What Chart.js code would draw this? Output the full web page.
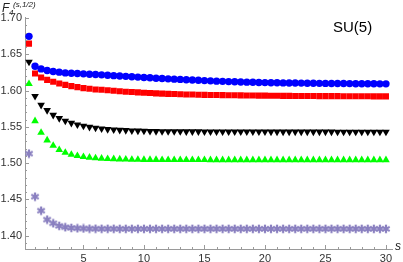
<!DOCTYPE html>
<html><head><meta charset="utf-8">
<script src="https://cdn.jsdelivr.net/npm/chart.js@4/dist/chart.umd.min.js"></script>
<style>html,body{margin:0;padding:0;background:#fff}#wrap{width:403px;height:262px;position:relative}</style>
</head><body><div id="wrap"><canvas id="c" width="403" height="262"></canvas></div>
<script>
const sValues = [0.5,1,1.5,2,2.5,3,3.5,4,4.5,5,5.5,6,6.5,7,7.5,8,8.5,9,9.5,10,10.5,11,11.5,12,12.5,13,13.5,14,14.5,15,15.5,16,16.5,17,17.5,18,18.5,19,19.5,20,20.5,21,21.5,22,22.5,23,23.5,24,24.5,25,25.5,26,26.5,27,27.5,28,28.5,29,29.5,30];
const blueSeries = [1.6747,1.6335,1.6298,1.6276,1.6262,1.6253,1.6243,1.6239,1.6235,1.6230,1.6225,1.6221,1.6216,1.6210,1.6205,1.6200,1.6195,1.6190,1.6185,1.6180,1.6175,1.6170,1.6165,1.6161,1.6157,1.6153,1.6149,1.6145,1.6141,1.6137,1.6133,1.6129,1.6126,1.6123,1.6120,1.6117,1.6115,1.6113,1.6111,1.6109,1.6107,1.6106,1.6105,1.6104,1.6103,1.6102,1.6101,1.6100,1.6099,1.6098,1.6097,1.6096,1.6096,1.6095,1.6094,1.6094,1.6093,1.6093,1.6092,1.6092];
const redSeries = [1.6647,1.6235,1.6180,1.6147,1.6120,1.6097,1.6078,1.6060,1.6047,1.6033,1.6024,1.6015,1.6010,1.6003,1.5996,1.5990,1.5984,1.5979,1.5974,1.5969,1.5965,1.5961,1.5957,1.5954,1.5951,1.5948,1.5946,1.5944,1.5942,1.5940,1.5939,1.5937,1.5936,1.5935,1.5934,1.5933,1.5932,1.5931,1.5930,1.5929,1.5928,1.5927,1.5926,1.5926,1.5925,1.5925,1.5924,1.5924,1.5923,1.5923,1.5922,1.5922,1.5921,1.5921,1.5920,1.5920,1.5920,1.5919,1.5919,1.5919];
const blackSeries = [1.6394,1.5923,1.5800,1.5727,1.5662,1.5617,1.5580,1.5552,1.5529,1.5511,1.5497,1.5484,1.5474,1.5466,1.5460,1.5455,1.5451,1.5447,1.5444,1.5442,1.5440,1.5438,1.5437,1.5436,1.5435,1.5435,1.5434,1.5434,1.5434,1.5433,1.5433,1.5433,1.5433,1.5432,1.5432,1.5432,1.5432,1.5432,1.5432,1.5432,1.5431,1.5431,1.5431,1.5431,1.5431,1.5431,1.5431,1.5431,1.5431,1.5431,1.5431,1.5430,1.5430,1.5430,1.5430,1.5430,1.5430,1.5430,1.5430,1.5430];
const greenSeries = [1.6092,1.5580,1.5419,1.5314,1.5240,1.5181,1.5144,1.5117,1.5099,1.5085,1.5076,1.5067,1.5062,1.5058,1.5055,1.5052,1.5050,1.5048,1.5047,1.5046,1.5045,1.5045,1.5044,1.5044,1.5044,1.5043,1.5043,1.5043,1.5043,1.5043,1.5042,1.5042,1.5042,1.5042,1.5042,1.5042,1.5042,1.5042,1.5042,1.5042,1.5042,1.5042,1.5042,1.5042,1.5042,1.5042,1.5042,1.5042,1.5042,1.5042,1.5042,1.5042,1.5042,1.5042,1.5042,1.5042,1.5042,1.5042,1.5042,1.5042];
const starSeries = [1.5130,1.4536,1.4343,1.4220,1.4169,1.4133,1.4114,1.4105,1.4100,1.4097,1.4095,1.4094,1.4093,1.4093,1.4093,1.4092,1.4092,1.4092,1.4092,1.4092,1.4092,1.4092,1.4092,1.4092,1.4092,1.4092,1.4092,1.4092,1.4092,1.4092,1.4092,1.4092,1.4092,1.4092,1.4092,1.4092,1.4092,1.4092,1.4092,1.4092,1.4092,1.4092,1.4092,1.4092,1.4092,1.4092,1.4092,1.4092,1.4092,1.4092,1.4092,1.4092,1.4092,1.4092,1.4092,1.4092,1.4092,1.4092,1.4092,1.4092];
const yTickLabels = ['1.40','1.45','1.50','1.55','1.60','1.65','1.70'];
const xTickLabels = ['5','10','15','20','25','30'];

function pts(arr){ return sValues.map((s,i)=>({x:s,y:arr[i]})); }

// asterisk marker
function makeStar(color){
  const cv=document.createElement('canvas'); cv.width=10; cv.height=10;
  const g=cv.getContext('2d'); g.strokeStyle=color; g.lineWidth=2.2; g.lineCap='butt';
  g.beginPath();
  for(let k=0;k<3;k++){
    const a=Math.PI/2 + k*Math.PI/3;
    g.moveTo(5+4.3*Math.cos(a),5-4.3*Math.sin(a));
    g.lineTo(5-4.3*Math.cos(a),5+4.3*Math.sin(a));
  }
  g.stroke();
  return cv;
}
const starImg = makeStar('#8a80c0');

const axisColor='#9a9a9a';
const decor = {
  id:'decor',
  afterDraw(chart){
    const {ctx, chartArea:a, scales:{x,y}} = chart;
    ctx.save();
    ctx.strokeStyle=axisColor; ctx.lineWidth=1;
    for(let v=1.38; v<=1.7001; v+=0.01){
      const vv=Math.round(v*100)/100;
      if(vv<y.min||vv>y.max) continue;
      const py=Math.round(y.getPixelForValue(vv))+0.5;
      const major = Math.abs(vv*20-Math.round(vv*20))<1e-6;
      ctx.beginPath(); ctx.moveTo(a.left, py); ctx.lineTo(a.left+(major?4:2), py); ctx.stroke();
    }
    for(let v=1; v<=30; v++){
      const px=Math.round(x.getPixelForValue(v))+0.5;
      const major = v%5===0;
      ctx.beginPath(); ctx.moveTo(px, a.bottom); ctx.lineTo(px, a.bottom-(major?4:2)); ctx.stroke();
    }
    ctx.fillStyle='#222';
    ctx.textBaseline='alphabetic'; ctx.textAlign='left';
    ctx.font='italic 12px "Liberation Sans", Arial, sans-serif';
    ctx.fillText('s', 395, 250);
    ctx.font='italic 12px "Liberation Sans", Arial, sans-serif';
    ctx.fillText('F', 2, 12);
    ctx.font='italic 8px "Liberation Sans", Arial, sans-serif';
    ctx.fillText('4', 9, 15);
    ctx.fillText('(s,1/2)', 13, 7);
    ctx.font='15px "Liberation Sans", Arial, sans-serif';
    ctx.fillStyle='#000';
    ctx.fillText('SU(5)', 333, 32);
    ctx.restore();
  }
};

new Chart(document.getElementById('c'), {
  type:'scatter',
  data:{ datasets:[
    {label:'blue', data:pts(blueSeries), pointStyle:'circle', pointRadius:3.7, backgroundColor:'#0000ff', borderColor:'#0000ff', borderWidth:0},
    {label:'red', data:pts(redSeries), pointStyle:'rect', pointRadius:4.3, backgroundColor:'#ff0000', borderColor:'#ff0000', borderWidth:0},
    {label:'black', data:pts(blackSeries), pointStyle:'triangle', rotation:180, pointRadius:4.4, backgroundColor:'#000000', borderColor:'#000000', borderWidth:0},
    {label:'green', data:pts(greenSeries), pointStyle:'triangle', pointRadius:4.4, backgroundColor:'#00ff00', borderColor:'#00ff00', borderWidth:0},
    {label:'stars', data:pts(starSeries), pointStyle:starImg, pointRadius:5}
  ]},
  options:{
    responsive:false, animation:false, events:[],
    layout:{padding:{left:0,right:11,top:17.5,bottom:0}},
    plugins:{legend:{display:false}, tooltip:{enabled:false}},
    scales:{
      x:{type:'linear', min:0.17, max:30.5,
        afterFit(s){ s.height=13; },
        grid:{display:false, drawTicks:false}, border:{display:true,color:axisColor,width:1},
        ticks:{autoSkip:false, padding:3, color:'#333', font:{family:'"Liberation Sans", Arial, sans-serif', size:11},
          callback:(v)=> xTickLabels.includes(String(v)) ? String(v) : null},
        afterBuildTicks(s){ s.ticks = xTickLabels.map(t=>({value:Number(t)})); }
      },
      y:{type:'linear', min:1.3814, max:1.7007,
        afterFit(s){ s.width=25; },
        grid:{display:false, drawTicks:false}, border:{display:true,color:axisColor,width:1},
        ticks:{autoSkip:false, padding:3, color:'#333', font:{family:'"Liberation Sans", Arial, sans-serif', size:11},
          callback:(v)=> Number(v).toFixed(2)},
        afterBuildTicks(s){ s.ticks = yTickLabels.map(t=>({value:Number(t)})); }
      }
    }
  },
  plugins:[decor]
});
</script></body></html>
